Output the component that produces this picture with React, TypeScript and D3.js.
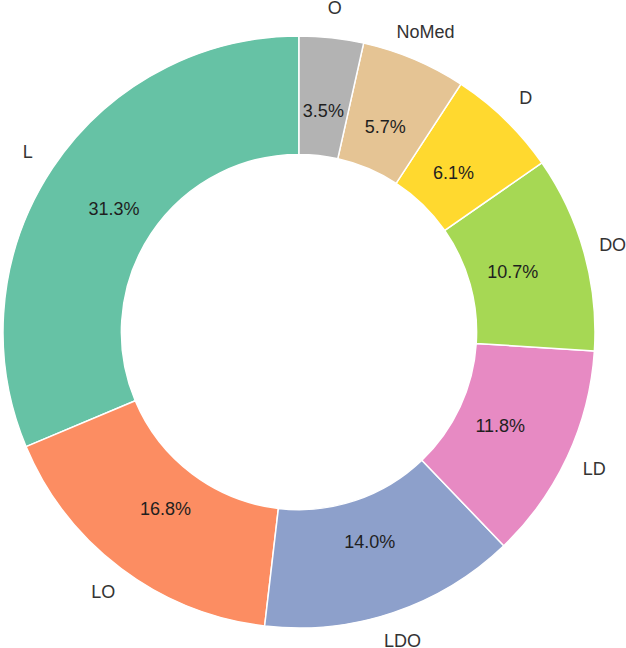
import React, { useEffect, useRef } from 'react';
import * as d3 from 'd3';

const labels = ['L', 'LO', 'LDO', 'LD', 'DO', 'D', 'NoMed', 'O'];
const values = [31.3, 16.8, 14.0, 11.8, 10.7, 6.1, 5.7, 3.5];
const colors = ['#66c2a5', '#fc8d62', '#8da0cb', '#e78ac3', '#a6d854', '#ffd92f', '#e5c494', '#b3b3b3'];

const W = 626;
const H = 648;

const Donut: React.FC = () => {
  const ref = useRef<SVGSVGElement>(null);

  useEffect(() => {
    const svg = d3.select(ref.current);
    if (!ref.current) return;
    svg.selectAll('*').remove();

    const cx = 299;
    const cy = 332;
    const R = 296;
    const inner = R * 0.6;

    // counterclockwise from 12 o'clock, like matplotlib startangle=90
    const pie = d3
      .pie<number>()
      .sort(null)
      .value((d) => d)
      .startAngle(0)
      .endAngle(-2 * Math.PI);
    const arcs = pie(values);

    const arc = d3.arc<any>().innerRadius(inner).outerRadius(R);

    const g = svg.append('g').attr('transform', `translate(${cx},${cy})`);

    g.selectAll('path')
      .data(arcs)
      .enter()
      .append('path')
      .attr('d', arc)
      .attr('fill', (d, i) => colors[i])
      .attr('stroke', '#fff')
      .attr('stroke-width', 1.5);

    const pos = (d: any, r: number) => {
      const a = (d.startAngle + d.endAngle) / 2;
      return [Math.sin(a) * r, -Math.cos(a) * r];
    };

    const total = d3.sum(values);

    g.selectAll('text.pct')
      .data(arcs)
      .enter()
      .append('text')
      .attr('class', 'pct')
      .attr('x', (d) => pos(d, R * 0.75)[0])
      .attr('y', (d) => pos(d, R * 0.75)[1])
      .attr('text-anchor', 'middle')
      .attr('dominant-baseline', 'central')
      .attr('font-size', '18px')
      .attr('fill', '#1f1f1f')
      .text((d) => ((d.value / total) * 100).toFixed(1) + '%');

    g.selectAll('text.lbl')
      .data(arcs)
      .enter()
      .append('text')
      .attr('class', 'lbl')
      .attr('x', (d) => pos(d, R * 1.1)[0])
      .attr('y', (d) => pos(d, R * 1.1)[1])
      .attr('text-anchor', 'middle')
      .attr('dominant-baseline', 'central')
      .attr('font-size', '18px')
      .attr('fill', '#333')
      .text((d, i) => labels[i]);
  }, []);

  return (
    <svg
      ref={ref}
      width={W}
      height={H}
      style={{ position: 'absolute', left: 0, top: 0, background: '#fff' }}
      fontFamily="'Liberation Sans', Arial, sans-serif"
    />
  );
};

export default function App() {
  return <Donut />;
}
